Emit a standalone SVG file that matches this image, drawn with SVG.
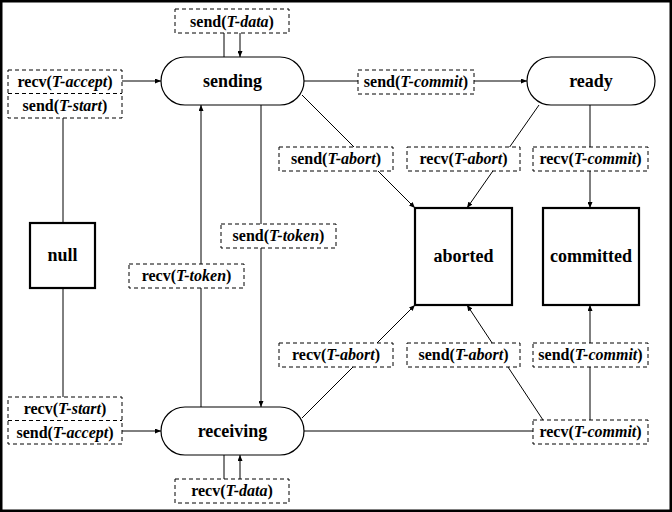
<svg xmlns="http://www.w3.org/2000/svg" width="672" height="512" viewBox="0 0 672 512">
<style>
.lbl rect{fill:#fff;stroke:#000;stroke-width:1;stroke-dasharray:4,3}
.lbl text,.node text{font-family:"Liberation Serif","Times New Roman",serif;font-weight:bold;fill:#000;text-anchor:middle}
.lbl text{font-size:16px}
.node text{font-size:18px}
.it{font-style:italic}
.node rect{fill:#fff;stroke:#000}
.pill rect{stroke-width:1.2}
.box rect{stroke-width:2.2}
#connectors path{fill:none;stroke:#000;stroke-width:1}
</style>
<defs>
<marker id="ah" markerUnits="userSpaceOnUse" markerWidth="6" markerHeight="5" refX="6" refY="2.5" orient="auto">
<path d="M0,0 L6,2.5 L0,5 z" fill="#000"/>
</marker>
</defs>
<rect x="1.25" y="1.25" width="669.5" height="509.5" fill="#fff" stroke="#000" stroke-width="2.5"/>
<g id="connectors">
<path d="M224,57 V33"/>
<path d="M240,33 V57" marker-end="url(#ah)"/>
<path d="M122,81 H161" marker-end="url(#ah)"/>
<path d="M63,223 V118"/>
<path d="M304,81 H358"/>
<path d="M474,81 H527" marker-end="url(#ah)"/>
<path d="M302,95 L415,208" marker-end="url(#ah)"/>
<path d="M539,105 L467,208" marker-end="url(#ah)"/>
<path d="M590,105 V208" marker-end="url(#ah)"/>
<path d="M261,105 V407" marker-end="url(#ah)"/>
<path d="M201,407 V105" marker-end="url(#ah)"/>
<path d="M63,288 V397"/>
<path d="M122,431 H161" marker-end="url(#ah)"/>
<path d="M224,455 V479"/>
<path d="M240,479 V455" marker-end="url(#ah)"/>
<path d="M302,418 L415,305" marker-end="url(#ah)"/>
<path d="M304,431 H533"/>
<path d="M543,420 L467,305" marker-end="url(#ah)"/>
<path d="M590,420 V305" marker-end="url(#ah)"/>
</g>
<g id="labels">
<g class="lbl" id="l-send-data"><rect x="175" y="9" width="114" height="24"/><text x="232" y="26.5">send(<tspan class="it">T-data</tspan>)</text></g>
<g class="lbl" id="l-accept-start"><rect x="8" y="70" width="114" height="48"/><path d="M8,93.5 H122" stroke="#000" stroke-dasharray="4,3"/><text x="65" y="87">recv(<tspan class="it">T-accept</tspan>)</text><text x="65" y="111">send(<tspan class="it">T-start</tspan>)</text></g>
<g class="lbl" id="l-send-commit1"><rect x="358" y="70" width="116" height="24"/><text x="416" y="87">send(<tspan class="it">T-commit</tspan>)</text></g>
<g class="lbl" id="l-send-abort1"><rect x="279" y="147" width="114" height="24"/><text x="336" y="164">send(<tspan class="it">T-abort</tspan>)</text></g>
<g class="lbl" id="l-recv-abort1"><rect x="407" y="147" width="113" height="24"/><text x="463.5" y="164">recv(<tspan class="it">T-abort</tspan>)</text></g>
<g class="lbl" id="l-recv-commit1"><rect x="533" y="147" width="115" height="24"/><text x="590.5" y="164">recv(<tspan class="it">T-commit</tspan>)</text></g>
<g class="lbl" id="l-send-token"><rect x="221" y="224" width="115" height="24"/><text x="278.5" y="241">send(<tspan class="it">T-token</tspan>)</text></g>
<g class="lbl" id="l-recv-token"><rect x="129" y="264" width="115" height="24"/><text x="186.5" y="281">recv(<tspan class="it">T-token</tspan>)</text></g>
<g class="lbl" id="l-recv-abort2"><rect x="279" y="343" width="114" height="24"/><text x="336" y="360">recv(<tspan class="it">T-abort</tspan>)</text></g>
<g class="lbl" id="l-send-abort2"><rect x="407" y="343" width="113" height="24"/><text x="463.5" y="360">send(<tspan class="it">T-abort</tspan>)</text></g>
<g class="lbl" id="l-send-commit2"><rect x="533" y="343" width="115" height="24"/><text x="590.5" y="360">send(<tspan class="it">T-commit</tspan>)</text></g>
<g class="lbl" id="l-start-accept"><rect x="8" y="397" width="114" height="47"/><path d="M8,420.5 H122" stroke="#000" stroke-dasharray="4,3"/><text x="65" y="413.5">recv(<tspan class="it">T-start</tspan>)</text><text x="65" y="437.5">send(<tspan class="it">T-accept</tspan>)</text></g>
<g class="lbl" id="l-recv-commit2"><rect x="533" y="420" width="115" height="24"/><text x="590.5" y="437">recv(<tspan class="it">T-commit</tspan>)</text></g>
<g class="lbl" id="l-recv-data"><rect x="175" y="479" width="114" height="24"/><text x="232" y="496">recv(<tspan class="it">T-data</tspan>)</text></g>
</g>
<g class="node pill" id="sending"><rect x="161" y="57" width="143" height="48" rx="24" ry="24"/><text x="232.5" y="87">sending</text></g>
<g class="node pill" id="ready"><rect x="527" y="57" width="128" height="48" rx="24" ry="24"/><text x="591" y="87">ready</text></g>
<g class="node pill" id="receiving"><rect x="161" y="407" width="143" height="48" rx="24" ry="24"/><text x="232.5" y="437">receiving</text></g>
<g class="node box" id="null"><rect x="30" y="223" width="65" height="65"/><text x="62.5" y="261">null</text></g>
<g class="node box" id="aborted"><rect x="415" y="208" width="97" height="97"/><text x="463.5" y="262">aborted</text></g>
<g class="node box" id="committed"><rect x="543" y="208" width="96" height="97"/><text x="591" y="262">committed</text></g>
</svg>
